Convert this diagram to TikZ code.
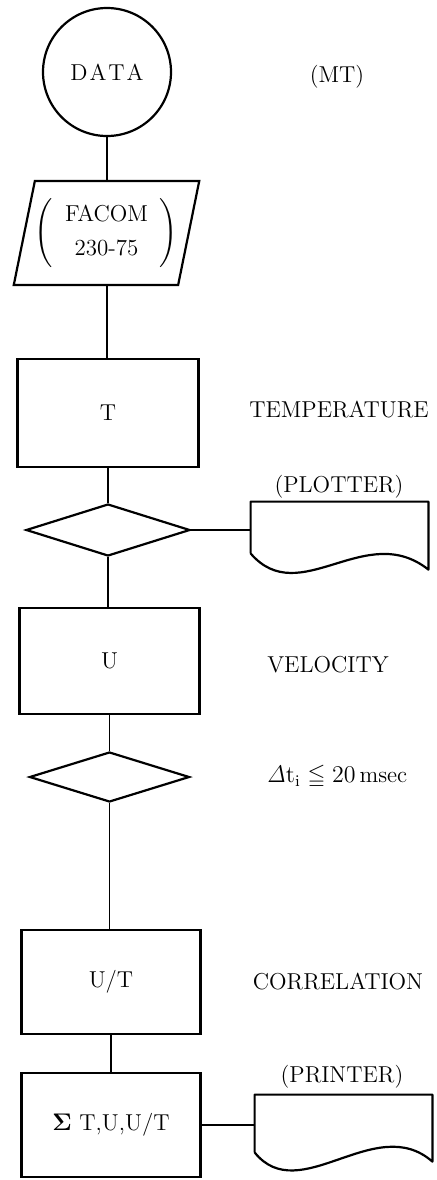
\documentclass[tikz,border=0pt]{standalone}
\usepackage{amssymb}
\usetikzlibrary{shapes.geometric}
\begin{document}
\begin{tikzpicture}[x=0.5pt, y=-0.5pt,
    every node/.style={font=\fontsize{11.5}{14}\selectfont},
    box/.style={draw, line width=1.1pt, minimum width=90pt, minimum height=53pt, inner sep=0pt},
    dec/.style={draw, diamond, line width=1.1pt, minimum width=82pt, minimum height=26pt, inner sep=0pt},
    wire/.style={line width=0.7pt},
    sheet/.style={line width=1.1pt, line join=round}]
    \useasboundingbox (0,0) rectangle (436,1180);

    % Input from magnetic tape
    \node[draw, circle, line width=1.1pt, minimum size=64pt, inner sep=0pt] (data) at (107,72) {D\kern1pt A\kern1pt T\kern1pt A};
    \node (mt) at (337,77) {(MT)};
    \node[draw, trapezium, trapezium left angle=73, trapezium right angle=107,
          trapezium stretches=true, minimum width=92.5pt, minimum height=52pt,
          line width=1.1pt, inner sep=0pt] (facom) at (106.5,233)
          {$\left(\begin{tabular}{c}FACOM\\[3pt]230-75\end{tabular}\right)$};

    % Temperature
    \node[box, minimum width=90.5pt, minimum height=54pt] (tbox) at (108,413) {T};
    \node (temp) at (339,410) {TEMPERATURE};
    \node[dec] (dec1) at (108,530) {};

    % Plotter output
    \node (plotlbl) at (339,487) {(PLOTTER)};
    \node[minimum width=88.5pt, minimum height=25.5pt, inner sep=0pt] (plotter) at (339.5,527.5) {};
    \draw[sheet] (plotter.south west) -- (plotter.north west) -- (plotter.north east) -- ++(0,68)
        .. controls +(-63,-50) and +(49,57) .. (plotter.south west);

    % Velocity
    \node[box] (ubox) at (109.5,661) {U};
    \node (vel) at (328,665) {VELOCITY};
    \node[dec, minimum width=80pt, minimum height=25pt] (dec2) at (109.5,777) {};
    \node (cond) at (337,777) {$\mathit{\Delta}\mathrm{t}_{\mathrm{i}}\leqq 20\,$msec};

    % Correlation
    \node[box, minimum width=89.5pt, minimum height=52pt] (utbox) at (111,982) {U/T};
    \node (corr) at (338,982) {CORRELATION};
    \node[box, minimum width=89.5pt, minimum height=52pt] (sum) at (111,1125) {$\mathbf{\Sigma}$\ T,U,U/T};

    % Printer output
    \node (printlbl) at (342,1077) {(PRINTER)};
    \node[minimum width=88.5pt, minimum height=28.5pt, inner sep=0pt] (printer) at (343.5,1123.5) {};
    \draw[sheet] (printer.south west) -- (printer.north west) -- (printer.north east) -- ++(0,67)
        .. controls +(-57,-50) and +(45,56) .. (printer.south west);

    % Connectors
    \draw[wire] (data.south) -- (data.south |- facom.north);
    \draw[wire] (data.south |- facom.south) -- (data.south |- tbox.north);
    \draw[wire] (tbox.south) -- (dec1.north);
    \draw[wire] (dec1.east) -- (dec1.east -| plotter.west);
    \draw[wire] (dec1.south) -- (dec1.south |- ubox.north);
    \draw[wire] (ubox.south) -- (dec2.north);
    \draw[wire] (dec2.south) -- (dec2.south |- utbox.north);
    \draw[wire] (utbox.south) -- (sum.north);
    \draw[wire] (sum.east) -- (sum.east -| printer.west);
\end{tikzpicture}
\end{document}
